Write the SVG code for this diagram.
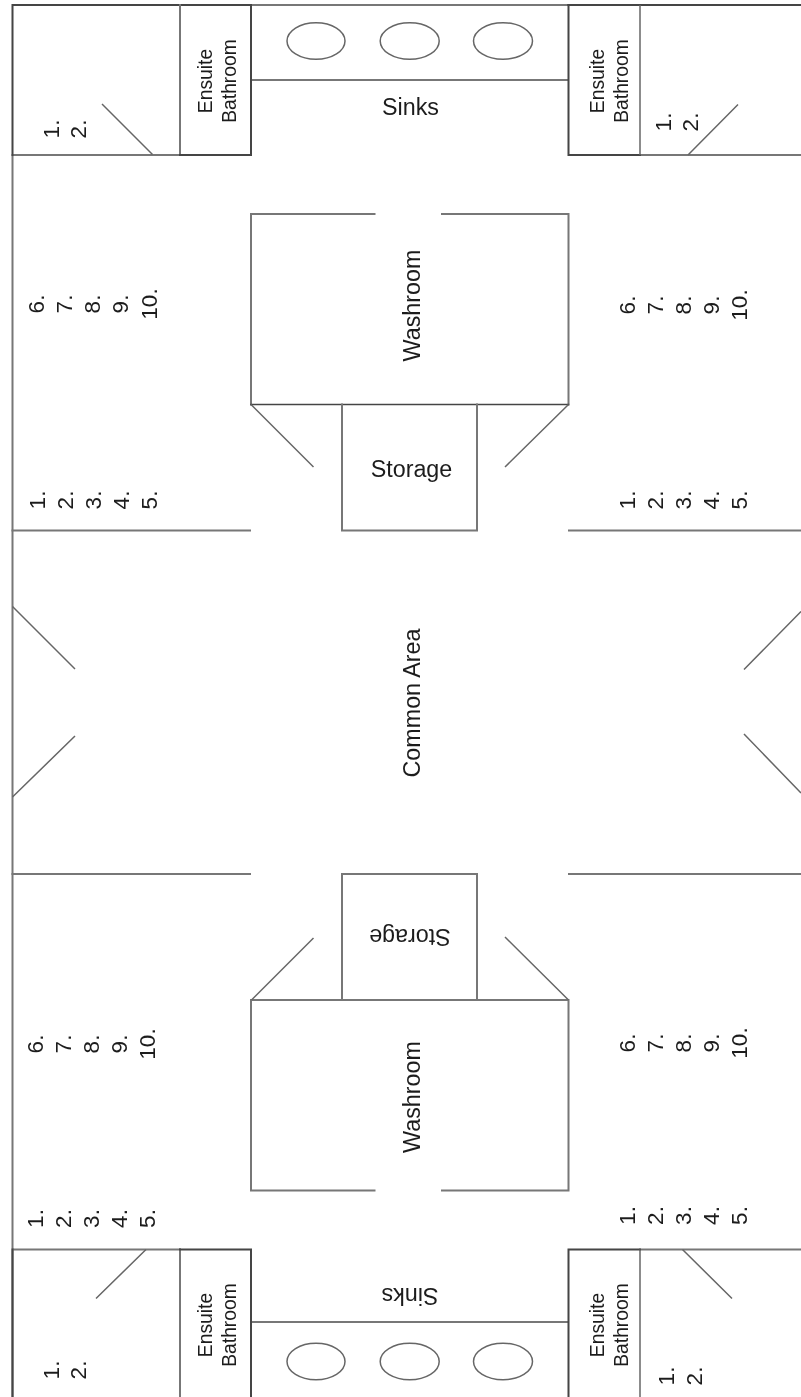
<svg xmlns="http://www.w3.org/2000/svg" width="801" height="1397" viewBox="0 0 801 1397">
<style>
.w{fill:none;stroke:#777;stroke-width:2;stroke-linecap:square}
.d{fill:none;stroke:#444;stroke-width:2;stroke-linecap:square}
.t{fill:none;stroke:#666;stroke-width:1.5}
text{font-family:"Liberation Sans",Arial,sans-serif;fill:#1c1c1c;text-anchor:middle}
.big{font-size:23.3px}
.en{font-size:19.3px}
.num{font-size:22.5px}
</style>
<defs><filter id="soft" x="-2%" y="-2%" width="104%" height="104%"><feGaussianBlur stdDeviation="0.45"/></filter></defs>
<rect width="801" height="1397" fill="#fff"/>
<g filter="url(#soft)">
<g id="walls">
<path class="w" d="M12.5 155V1397M251 5H568M12.5 155H180M640 155H800M251 80H568M251 1322H568M12.5 1249.5H180M640 1249.5H800"/>
<path class="w" d="M12.5 530.5H250M569 530.5H800M12.5 874H250M569 874H800"/>
<path class="d" d="M12.5 155V5H251M568.5 5H800M12.5 1249.5V1397"/>
</g>
<g id="ensuite-top-left"><path class="w" d="M180 5V155"/><path class="d" d="M180 155H251V5"/>
<text class="en" transform="translate(212 81) rotate(-90)">Ensuite</text><text class="en" transform="translate(236 81) rotate(-90)">Bathroom</text></g>
<g id="ensuite-top-right"><path class="d" d="M568.5 5V155H640"/><path class="t" d="M640 5V155"/>
<text class="en" transform="translate(603.5 81) rotate(-90)">Ensuite</text><text class="en" transform="translate(627.5 81) rotate(-90)">Bathroom</text></g>
<g id="ensuite-bottom-left"><path class="w" d="M180 1249.5V1397"/><path class="d" d="M180 1249.5H251V1397"/>
<text class="en" transform="translate(212 1325) rotate(-90)">Ensuite</text><text class="en" transform="translate(236 1325) rotate(-90)">Bathroom</text></g>
<g id="ensuite-bottom-right"><path class="d" d="M568.5 1397V1249.5H640"/><path class="t" d="M640 1249.5V1397"/>
<text class="en" transform="translate(603.5 1325) rotate(-90)">Ensuite</text><text class="en" transform="translate(627.5 1325) rotate(-90)">Bathroom</text></g>
<g id="sinks-top">
<ellipse class="t" cx="316" cy="41" rx="29" ry="18.3"/><ellipse class="t" cx="409.7" cy="41" rx="29.5" ry="18.3"/><ellipse class="t" cx="503" cy="41" rx="29.5" ry="18.3"/>
<text class="big" x="410.5" y="115">Sinks</text></g>
<g id="sinks-bottom">
<ellipse class="t" cx="316" cy="1361.5" rx="29" ry="18.3"/><ellipse class="t" cx="409.7" cy="1361.5" rx="29.5" ry="18.3"/><ellipse class="t" cx="503" cy="1361.5" rx="29.5" ry="18.3"/>
<text class="big" transform="translate(410 1288) rotate(180)">Sinks</text></g>
<g id="washroom-top"><path class="w" d="M374.5 214H251V404.5M442 214H568.5V404.5"/><path class="d" d="M251 404.5H568.5" style="stroke-width:1.5"/>
<text class="big" transform="translate(420 305.5) rotate(-90)">Washroom</text></g>
<g id="washroom-bottom"><path class="w" d="M374.5 1190.5H251V1000M442 1190.5H568.5V1000M251 1000H568.5"/>
<text class="big" transform="translate(420 1097) rotate(-90)">Washroom</text></g>
<g id="storage-top"><path class="w" d="M342 404.5V530.5H477V404.5"/><text class="big" x="411.5" y="477">Storage</text></g>
<g id="storage-bottom"><path class="w" d="M342 1000V874H477V1000"/><text class="big" transform="translate(410 929) rotate(180)">Storage</text></g>
<g id="common-area"><text class="big" transform="translate(420 703) rotate(-90)">Common Area</text></g>
<g id="doors">
<path class="t" d="M102 104L152.5 154.5M738 104.5L688 155M96 1298.5L146 1249.5M682.5 1249.5L732 1298.5M12.5 606.5L75 669M12.5 797L75 736M801 611.5L744 669.5M744 734L801 793M251 404.5L313.5 467M568.5 404.5L505 467M251.5 1000L313.5 938M568.5 1000L505 937"/>
</g>
<g id="lists">
<g id="list-tl-a"><text class="num" transform="translate(59 129) rotate(-90)">1.</text><text class="num" transform="translate(86 129) rotate(-90)">2.</text></g>
<g id="list-tl-b"><text class="num" transform="translate(44 304) rotate(-90)">6.</text><text class="num" transform="translate(72 304) rotate(-90)">7.</text><text class="num" transform="translate(100 304) rotate(-90)">8.</text><text class="num" transform="translate(128 304) rotate(-90)">9.</text><text class="num" transform="translate(156.500 304) rotate(-90)">10.</text></g>
<g id="list-tl-c"><text class="num" transform="translate(45 500) rotate(-90)">1.</text><text class="num" transform="translate(73 500) rotate(-90)">2.</text><text class="num" transform="translate(101 500) rotate(-90)">3.</text><text class="num" transform="translate(129 500) rotate(-90)">4.</text><text class="num" transform="translate(157 500) rotate(-90)">5.</text></g>
<g id="list-tr-a"><text class="num" transform="translate(671 122) rotate(-90)">1.</text><text class="num" transform="translate(698 122) rotate(-90)">2.</text></g>
<g id="list-tr-b"><text class="num" transform="translate(635 305) rotate(-90)">6.</text><text class="num" transform="translate(663 305) rotate(-90)">7.</text><text class="num" transform="translate(691 305) rotate(-90)">8.</text><text class="num" transform="translate(719 305) rotate(-90)">9.</text><text class="num" transform="translate(747 305) rotate(-90)">10.</text></g>
<g id="list-tr-c"><text class="num" transform="translate(635 500) rotate(-90)">1.</text><text class="num" transform="translate(663 500) rotate(-90)">2.</text><text class="num" transform="translate(691 500) rotate(-90)">3.</text><text class="num" transform="translate(719 500) rotate(-90)">4.</text><text class="num" transform="translate(747 500) rotate(-90)">5.</text></g>
<g id="list-bl-a"><text class="num" transform="translate(43 1044) rotate(-90)">6.</text><text class="num" transform="translate(71 1044) rotate(-90)">7.</text><text class="num" transform="translate(99 1044) rotate(-90)">8.</text><text class="num" transform="translate(127 1044) rotate(-90)">9.</text><text class="num" transform="translate(155 1044) rotate(-90)">10.</text></g>
<g id="list-bl-b"><text class="num" transform="translate(43 1218.500) rotate(-90)">1.</text><text class="num" transform="translate(71 1218.500) rotate(-90)">2.</text><text class="num" transform="translate(99 1218.500) rotate(-90)">3.</text><text class="num" transform="translate(127 1218.500) rotate(-90)">4.</text><text class="num" transform="translate(155 1218.500) rotate(-90)">5.</text></g>
<g id="list-bl-c"><text class="num" transform="translate(59 1370) rotate(-90)">1.</text><text class="num" transform="translate(86 1370) rotate(-90)">2.</text></g>
<g id="list-br-a"><text class="num" transform="translate(635 1043) rotate(-90)">6.</text><text class="num" transform="translate(663 1043) rotate(-90)">7.</text><text class="num" transform="translate(691 1043) rotate(-90)">8.</text><text class="num" transform="translate(719 1043) rotate(-90)">9.</text><text class="num" transform="translate(747 1043) rotate(-90)">10.</text></g>
<g id="list-br-b"><text class="num" transform="translate(635 1215.500) rotate(-90)">1.</text><text class="num" transform="translate(663 1215.500) rotate(-90)">2.</text><text class="num" transform="translate(691 1215.500) rotate(-90)">3.</text><text class="num" transform="translate(719 1215.500) rotate(-90)">4.</text><text class="num" transform="translate(747 1215.500) rotate(-90)">5.</text></g>
<g id="list-br-c"><text class="num" transform="translate(674 1376) rotate(-90)">1.</text><text class="num" transform="translate(702 1376) rotate(-90)">2.</text></g>
</g>
</g>
</svg>
